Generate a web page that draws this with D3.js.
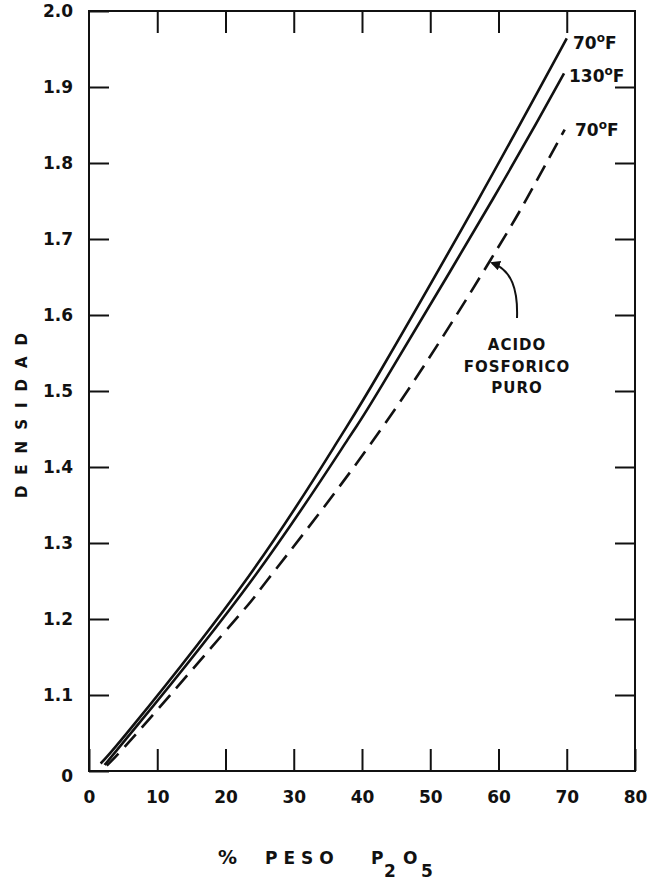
<!DOCTYPE html>
<html>
<head>
<meta charset="utf-8">
<script src="https://cdn.jsdelivr.net/npm/d3@7"></script>
<style>
  body { margin: 0; background: #fff; }
  svg { font-family: "DejaVu Sans", sans-serif; font-weight: bold; }
  .axis path { display: none; }
  .axis line { stroke: #111; stroke-width: 2; }
  .axis text { font-size: 17px; fill: #111; font-family: "DejaVu Sans", sans-serif; font-weight: bold; }
</style>
</head>
<body>
<svg width="650" height="884"></svg>
<script>
// % peso P2O5 vs densidad
var x70 = [1.7, 6.3, 23.3, 36.3, 42.6, 56.8, 70]
var d70 = [1.010, 1.058, 1.255, 1.432, 1.525, 1.748, 1.964]

var x130 = [2.3, 6.8, 24.0, 37.9, 42.9, 59.2, 69.6]
var d130 = [1.008, 1.057, 1.253, 1.436, 1.507, 1.753, 1.918]

var xPuro = [2.6, 8.6, 22.1, 26.2, 42.9, 58.8, 64.2, 69.7]
var dPuro = [1.007, 1.066, 1.206, 1.252, 1.451, 1.672, 1.754, 1.844]

var xTicks = [0, 10, 20, 30, 40, 50, 60, 70, 80]
var yTicks = [1.0, 1.1, 1.2, 1.3, 1.4, 1.5, 1.6, 1.7, 1.8, 1.9, 2.0]

var svg = d3.select("svg")
// plot box (don't call these top/left, window.top is taken)
var pLeft = 89, pRight = 635, pTop = 11, pBottom = 771

var x = d3.scaleLinear().domain([0, 80]).range([pLeft, pRight])
var y = d3.scaleLinear().domain([1.0, 2.0]).range([pBottom, pTop])

// frame
svg.append("rect")
    .attr("x", pLeft).attr("y", pTop)
    .attr("width", pRight - pLeft).attr("height", pBottom - pTop)
    .attr("fill", "none").attr("stroke", "#111").attr("stroke-width", 2)

// axes, ticks pointing inward
svg.append("g").attr("class", "axis")
    .attr("transform", "translate(0," + pBottom + ")")
    .call(d3.axisBottom(x).tickValues(xTicks).tickSize(-22).tickPadding(20))

svg.append("g").attr("class", "axis")
    .attr("transform", "translate(0," + pTop + ")")
    .call(d3.axisTop(x).tickValues(xTicks.slice(1, -1)).tickSize(-22).tickFormat(""))

svg.append("g").attr("class", "axis")
    .attr("transform", "translate(" + pLeft + ",0)")
    .call(d3.axisLeft(y).tickValues(yTicks).tickSize(-20).tickPadding(16)
        .tickFormat(function(d) { return d == 1.0 ? "0" : d3.format(".1f")(d) }))

svg.append("g").attr("class", "axis")
    .attr("transform", "translate(" + pRight + ",0)")
    .call(d3.axisRight(y).tickValues(yTicks.slice(1, -1)).tickSize(-20).tickFormat(""))

// the "0" sits a bit low in the original
svg.selectAll(".axis text").filter(function(d) { return d === 1.0 }).attr("dy", "0.6em")

// curves
var line = d3.line()
    .x(function(d) { return x(d[0]) })
    .y(function(d) { return y(d[1]) })
    .curve(d3.curveNatural)

function pairs(xs, ds) { return xs.map(function(v, i) { return [v, ds[i]] }) }

svg.append("path").datum(pairs(x70, d70))
    .attr("d", line).attr("fill", "none").attr("stroke", "#111").attr("stroke-width", 2.6)
svg.append("path").datum(pairs(x130, d130))
    .attr("d", line).attr("fill", "none").attr("stroke", "#111").attr("stroke-width", 2.6)
svg.append("path").datum(pairs(xPuro, dPuro))
    .attr("d", line).attr("fill", "none").attr("stroke", "#111").attr("stroke-width", 2.6)
    .attr("stroke-dasharray", "17,9")

// curve labels
function label(tx, ty, num) {
    var t = svg.append("text").attr("x", tx).attr("y", ty)
        .attr("font-size", 17).attr("fill", "#111")
    t.append("tspan").text(num)
    t.append("tspan").attr("font-size", 12).attr("dy", -7).text("o")
    t.append("tspan").attr("dy", 7).text("F")
    return t
}
label(573, 49, "70")
label(569, 82, "130")
label(575, 136, "70")

// annotation
var note = ["ACIDO", "FOSFORICO", "PURO"]
svg.selectAll(".note").data(note).enter().append("text")
    .attr("x", 517).attr("y", function(d, i) { return 350 + i * 21.5 })
    .attr("text-anchor", "middle").attr("font-size", 15).attr("fill", "#111")
    .attr("letter-spacing", 1)
    .text(function(d) { return d })

svg.append("defs").append("marker")
    .attr("id", "head").attr("viewBox", "0 0 10 10")
    .attr("refX", 8).attr("refY", 5)
    .attr("markerWidth", 5).attr("markerHeight", 5)
    .attr("orient", "auto")
    .append("path").attr("d", "M0,0 L10,5 L0,10 z").attr("fill", "#111")

svg.append("path")
    .attr("d", "M517,318 C518,290 512,270 492,263")
    .attr("fill", "none").attr("stroke", "#111").attr("stroke-width", 2)
    .attr("marker-end", "url(#head)")

// axis titles
svg.append("text")
    .attr("transform", "translate(27,410) rotate(-90)")
    .attr("text-anchor", "middle").attr("font-size", 15).attr("fill", "#111")
    .attr("letter-spacing", 11)
    .text("DENSIDAD")

var xt = svg.append("text").attr("x", 218).attr("y", 864)
    .attr("font-size", 17).attr("fill", "#111")
xt.append("tspan").attr("font-size", 19).text("%")
xt.append("tspan").attr("x", 265).attr("letter-spacing", 6).text("PESO")
xt.append("tspan").attr("x", 371).text("P")
xt.append("tspan").attr("x", 384).attr("dy", 13).text("2")
xt.append("tspan").attr("x", 403).attr("dy", -13).text("O")
xt.append("tspan").attr("x", 421).attr("dy", 13).text("5")
</script>
</body>
</html>
